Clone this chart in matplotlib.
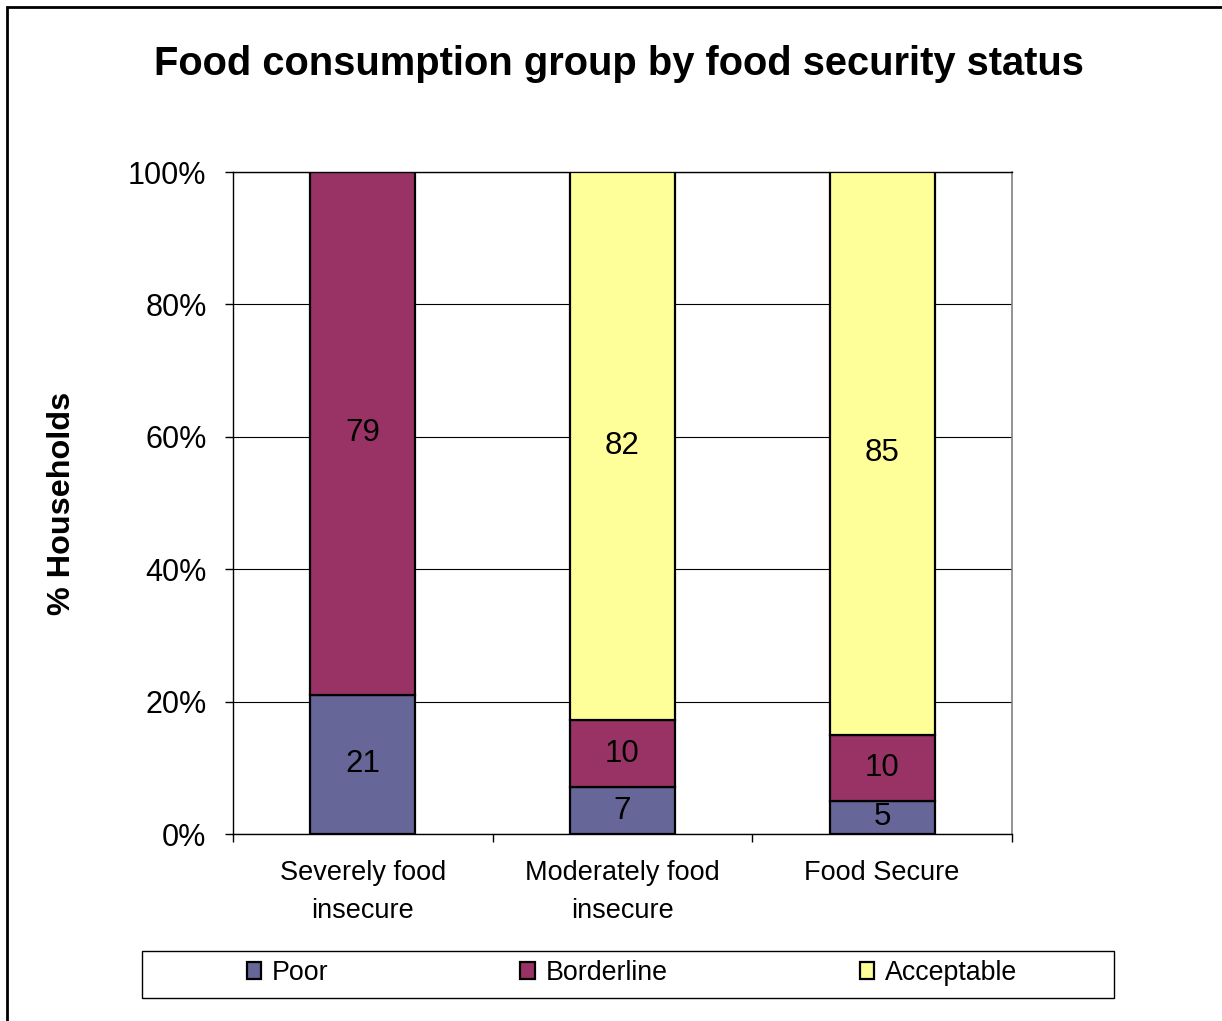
import matplotlib.pyplot as plt
import numpy as np
from matplotlib.patches import Rectangle

plt.rcParams["font.family"] = ["Liberation Sans", "DejaVu Sans"]

# food consumption groups per food security status (% of households)
status = ["Severely food\ninsecure", "Moderately food\ninsecure", "Food Secure"]
groups = ["Poor", "Borderline", "Acceptable"]
poor = [21, 7, 5]
borderline = [79, 10, 10]
acceptable = [0, 82, 85]
colors = ["#666699", "#993366", "#FFFF99"]

W, H = 1222, 1021
fig = plt.figure(figsize=(W / 100, H / 100), dpi=100)
ax = fig.add_axes([233 / W, 1 - 834 / H, (1012 - 233) / W, (834 - 172) / H])

vals = np.array([poor, borderline, acceptable], dtype=float)
share = vals / vals.sum(axis=0) * 100
x = np.arange(len(status))
bottom = np.zeros(len(status))
for i, g in enumerate(groups):
    ax.bar(x, share[i], 0.405, bottom=bottom, color=colors[i],
           edgecolor="black", linewidth=1.6, label=g, zorder=3)
    for xi, b, s, v in zip(x, bottom, share[i], vals[i]):
        if v > 0:
            ax.text(xi, b + s / 2, f"{v:.0f}", ha="center", va="center",
                    fontsize=22.5, zorder=4)
    bottom += share[i]

# axes
ax.set_xlim(-0.5, len(status) - 0.5)
ax.set_ylim(0, 100)
ax.set_yticks(np.arange(0, 101, 20))
ax.set_yticklabels([f"{v}%" for v in range(0, 101, 20)], fontsize=22)
ax.tick_params(axis="y", length=6, width=1, pad=13, direction="out")
ax.set_xticks(np.arange(-0.5, len(status)), labels=[])
ax.set_xticks(x, labels=status, minor=True)
ax.tick_params(axis="x", which="major", length=6, width=1)
ax.tick_params(axis="x", which="minor", length=0, pad=19, labelsize=19.5)
for lab in ax.get_xticklabels(minor=True):
    lab.set_linespacing(1.6)
ax.yaxis.grid(True, color="black", linewidth=0.8, zorder=0)
for s in ["left", "bottom", "top"]:
    ax.spines[s].set_color("black")
    ax.spines[s].set_linewidth(1)
ax.spines["right"].set_color("#808080")
ax.spines["right"].set_linewidth(1.2)
ax.set_ylabel("% Households", fontsize=23.3, fontweight="bold", labelpad=37)

fig.text(619 / W, 1 - 64 / H, "Food consumption group by food security status",
         ha="center", va="center", fontsize=28.7, fontweight="bold")

# legend with its own box
fig.patches.append(Rectangle((142 / W, 1 - 998 / H), (1114 - 142) / W, 47 / H,
                             transform=fig.transFigure, facecolor="white",
                             edgecolor="black", linewidth=1))
fig.legend(loc="center", bbox_to_anchor=(632 / W, 1 - 973 / H), ncol=3,
           frameon=False, fontsize=19.3, handlelength=0.55, handleheight=0.55,
           handletextpad=0.4, columnspacing=7.15)

# outer chart border
fig.patches.append(Rectangle((7 / W, -0.05), 1.1, 1.05 - 7 / H,
                             transform=fig.transFigure, facecolor="none",
                             edgecolor="black", linewidth=2))

fig.savefig("out.png", dpi=100)
